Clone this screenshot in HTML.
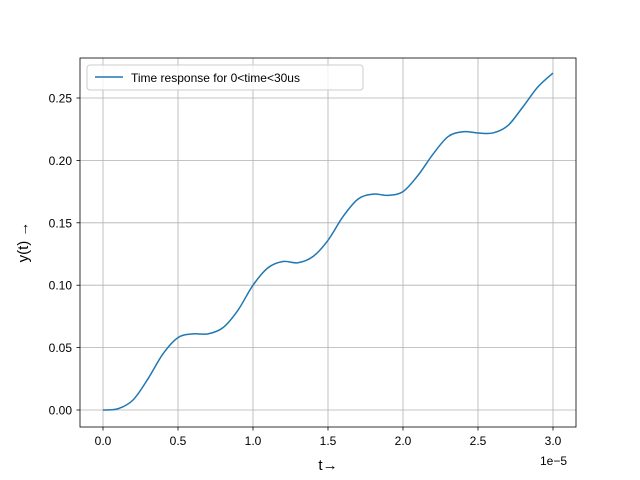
<!DOCTYPE html>
<html><head><meta charset="utf-8"><style>
body{margin:0;background:#fff}
svg{display:block;font-family:"Liberation Sans","DejaVu Sans",sans-serif}
</style></head><body>
<svg id="chart" width="640" height="480" viewBox="0 0 640 480">
<rect x="0" y="0" width="640" height="480" fill="#fff"/>
<g id="grid"></g>
<g id="series"></g>
<rect x="80" y="58" width="496" height="369" fill="none" stroke="#000" stroke-width="0.8"/>
<g id="xticks"></g>
<g id="yticks"></g>
<text x="540" y="465" font-size="12" fill="#000">1e−5</text>
<text x="328" y="470" font-size="15" text-anchor="middle" fill="#000">t→</text>
<text transform="translate(28,242) rotate(-90)" font-size="15" text-anchor="middle" fill="#000">y(t) →</text>
<g>
<rect x="87" y="65" width="276" height="25" rx="3" fill="#fff" fill-opacity="0.8" stroke="#ccc"/>
<line x1="95" y1="77" x2="123" y2="77" stroke="#1f77b4" stroke-width="1.5"/>
<text x="131" y="82" font-size="12" fill="#000">Time response for 0&lt;time&lt;30us</text>
</g>
</svg>
<script>
const tVals=[0,0.1,0.2,0.3,0.4,0.5,0.6,0.7,0.8,0.9,1.0,1.1,1.2,1.3,1.4,1.5,1.6,1.7,1.8,1.9,2.0,2.1,2.2,2.3,2.4,2.5,2.6,2.7,2.8,2.9,3.0];
const yVals=[0,0.001,0.008,0.025,0.045,0.058,0.061,0.061,0.066,0.080,0.100,0.114,0.119,0.118,0.123,0.136,0.155,0.169,0.173,0.172,0.175,0.188,0.205,0.219,0.223,0.222,0.222,0.228,0.243,0.259,0.270];
const xTicks=[0,0.5,1.0,1.5,2.0,2.5,3.0];
const xTickLabels=["0.0","0.5","1.0","1.5","2.0","2.5","3.0"];
const yTicks=[0,0.05,0.10,0.15,0.20,0.25];
const yTickLabels=["0.00","0.05","0.10","0.15","0.20","0.25"];
const NS="http://www.w3.org/2000/svg";
const xs=v=>103+(v/3.0)*450;
const ys=v=>410-(v/0.25)*312;
const grid=document.getElementById('grid'),xt=document.getElementById('xticks'),yt=document.getElementById('yticks'),ser=document.getElementById('series');
function mk(tag,attrs,parent){const e=document.createElementNS(NS,tag);for(const k in attrs)e.setAttribute(k,attrs[k]);parent.appendChild(e);return e;}
xTicks.forEach((v,i)=>{const x=xs(v);
const g=mk('line',{x1:x,x2:x,y1:58,y2:427,stroke:'#b0b0b0','stroke-width':0.8},grid);


const t=mk('line',{x1:x,x2:x,y1:427,y2:430.5,stroke:'#000','stroke-width':0.8},xt);


const l=mk('text',{x:x,y:445,'font-size':12,'text-anchor':'middle',fill:'#000'},xt);l.textContent=xTickLabels[i];

});
yTicks.forEach((v,i)=>{const y=ys(v);
const g=mk('line',{x1:80,x2:576,y1:y,y2:y,stroke:'#b0b0b0','stroke-width':0.8},grid);


const t=mk('line',{x1:76.5,x2:80,y1:y,y2:y,stroke:'#000','stroke-width':0.8},yt);


const l=mk('text',{x:72,y:y+4.5,'font-size':12,'text-anchor':'end',fill:'#000'},yt);l.textContent=yTickLabels[i];

});
const P=tVals.map((t,i)=>[xs(t),ys(yVals[i])]);
let d='M'+P[0][0]+','+P[0][1];
for(let i=0;i<P.length-1;i++){const p0=P[Math.max(0,i-1)],p1=P[i],p2=P[i+1],p3=P[Math.min(P.length-1,i+2)];
d+=' C'+(p1[0]+(p2[0]-p0[0])/6)+','+(p1[1]+(p2[1]-p0[1])/6)+' '+(p2[0]-(p3[0]-p1[0])/6)+','+(p2[1]-(p3[1]-p1[1])/6)+' '+p2[0]+','+p2[1];}
const path=mk('path',{d:d,fill:'none',stroke:'#1f77b4','stroke-width':1.5},ser);


</script>
</body></html>
